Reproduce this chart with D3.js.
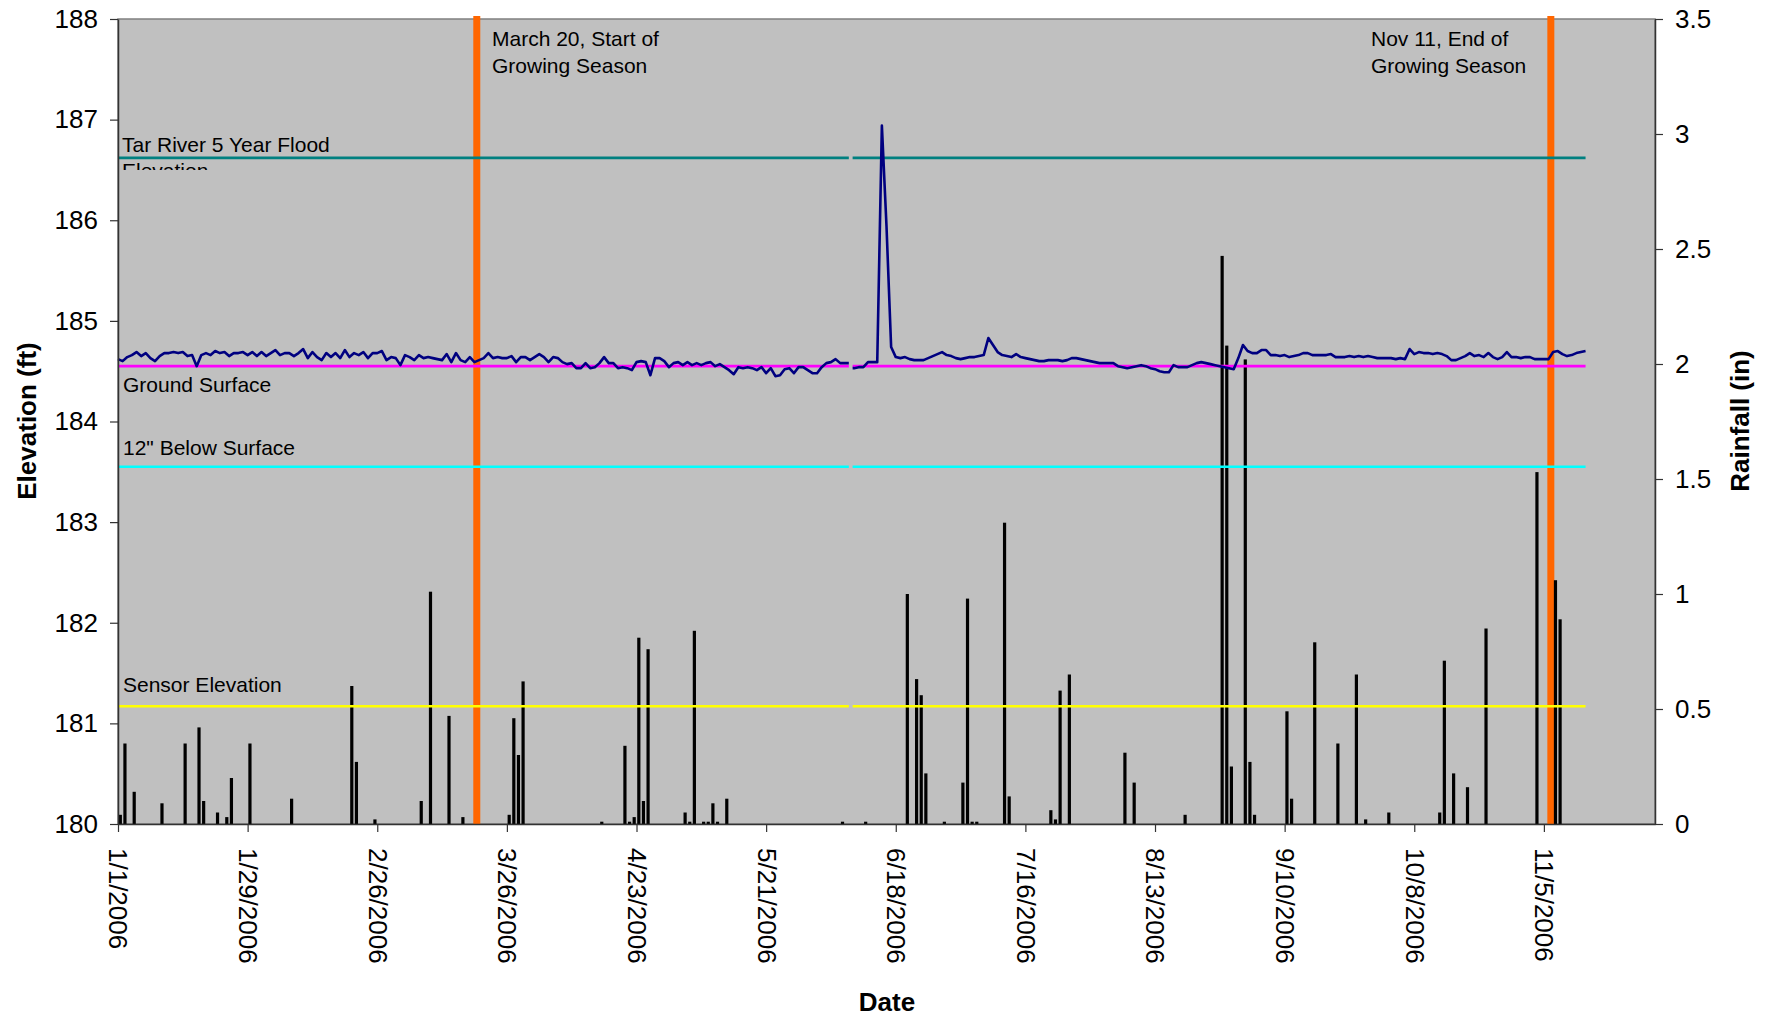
<!DOCTYPE html>
<html><head><meta charset="utf-8">
<script src="https://cdn.jsdelivr.net/npm/d3@7"></script>
<style>
body{margin:0;background:#fff;}
text{font-family:"Liberation Sans", Arial, sans-serif;}
</style></head><body>
<svg id="chart" width="1772" height="1016"></svg>
<script>
// ---------------- DATA ----------------
const levelStart = "2006-01-01"; // daily water level readings start
const levelValues = [
184.62,184.60,184.64,184.66,184.69,184.65,184.68,184.63,184.60,184.65,
184.68,184.68,184.69,184.68,184.69,184.65,184.66,184.55,184.66,184.68,
184.66,184.70,184.68,184.69,184.65,184.68,184.68,184.69,184.66,184.69,
184.65,184.69,184.65,184.68,184.71,184.66,184.68,184.68,184.65,184.68,
184.72,184.63,184.69,184.64,184.61,184.68,184.64,184.68,184.63,184.71,
184.64,184.68,184.66,184.69,184.63,184.68,184.68,184.70,184.61,184.64,
184.63,184.56,184.66,184.64,184.61,184.66,184.63,184.64,184.63,184.62,
184.61,184.67,184.59,184.68,184.61,184.59,184.64,184.59,184.61,184.63,
184.68,184.63,184.64,184.63,184.63,184.65,184.59,184.64,184.64,184.61,
184.64,184.67,184.64,184.59,184.64,184.63,184.59,184.57,184.58,184.53,
184.53,184.58,184.53,184.54,184.58,184.64,184.58,184.58,184.53,184.54,
184.53,184.51,184.59,184.60,184.59,184.46,184.63,184.63,184.60,184.54,
184.58,184.59,184.56,184.59,184.56,184.58,184.56,184.58,184.59,184.55,
184.57,184.54,184.51,184.47,184.54,184.53,184.54,184.53,184.51,184.54,
184.48,184.53,184.45,184.46,184.52,184.53,184.48,184.54,184.54,184.51,
184.48,184.48,184.54,184.58,184.59,184.62,184.58,184.58,null,184.53,
184.54,184.54,184.59,184.59,184.59,186.94,185.94,184.74,184.64,184.63,
184.64,184.62,184.61,184.61,184.61,184.63,184.65,184.67,184.69,184.66,
184.65,184.63,184.62,184.63,184.64,184.64,184.65,184.66,184.83,184.76,
184.69,184.66,184.65,184.64,184.67,184.64,184.63,184.62,184.61,184.60,
184.60,184.61,184.61,184.61,184.60,184.61,184.63,184.63,184.62,184.61,
184.60,184.59,184.58,184.58,184.58,184.58,184.55,184.54,184.53,184.54,
184.55,184.56,184.55,184.53,184.52,184.50,184.49,184.49,184.56,184.54,
184.54,184.54,184.56,184.58,184.59,184.58,184.57,184.56,184.55,184.54,
184.53,184.52,184.63,184.76,184.70,184.68,184.68,184.71,184.71,184.66,
184.66,184.65,184.66,184.64,184.65,184.66,184.68,184.68,184.66,184.66,
184.66,184.66,184.67,184.64,184.64,184.64,184.65,184.64,184.65,184.64,
184.65,184.64,184.63,184.63,184.63,184.63,184.62,184.63,184.62,184.72,
184.67,184.69,184.68,184.68,184.67,184.68,184.67,184.65,184.61,184.61,
184.63,184.65,184.68,184.65,184.66,184.64,184.68,184.64,184.62,184.64,
184.69,184.64,184.64,184.63,184.64,184.64,184.62,184.62,184.62,184.62,
184.69,184.70,184.67,184.65,184.66,184.68,184.69,184.70
];
// logger outage: no readings between these times
const levelGap = ["2006-06-07T20:40","2006-06-08T16:20"];

const rainDates = [
"2006-01-01","2006-01-02","2006-01-04","2006-01-10","2006-01-15","2006-01-18","2006-01-19","2006-01-22","2006-01-24","2006-01-25",
"2006-01-29","2006-02-07","2006-02-20","2006-02-21","2006-02-25","2006-03-07","2006-03-09","2006-03-13","2006-03-16","2006-03-26",
"2006-03-27","2006-03-28","2006-03-29","2006-04-15","2006-04-20","2006-04-21","2006-04-22","2006-04-23","2006-04-24","2006-04-25",
"2006-05-03","2006-05-04","2006-05-05","2006-05-07","2006-05-08","2006-05-09","2006-05-10","2006-05-12","2006-06-06","2006-06-11",
"2006-06-20","2006-06-22","2006-06-23","2006-06-24","2006-06-28","2006-07-02","2006-07-03","2006-07-04","2006-07-05","2006-07-11",
"2006-07-12","2006-07-21","2006-07-22","2006-07-23","2006-07-25","2006-08-06","2006-08-08","2006-08-19","2006-08-27","2006-08-28",
"2006-08-29","2006-09-01","2006-09-02","2006-09-03","2006-09-10","2006-09-11","2006-09-16","2006-09-21","2006-09-25","2006-09-27",
"2006-10-02","2006-10-13","2006-10-14","2006-10-16","2006-10-19","2006-10-23","2006-11-03","2006-11-07","2006-11-08"
];
const rainValues = [
0.04,0.35,0.14,0.09,0.35,0.42,0.10,0.05,0.03,0.20,
0.35,0.11,0.60,0.27,0.02,0.10,1.01,0.47,0.03,0.04,
0.46,0.30,0.62,0.01,0.34,0.01,0.03,0.81,0.10,0.76,
0.05,0.01,0.84,0.01,0.01,0.09,0.01,0.11,0.01,0.01,
1.00,0.63,0.56,0.22,0.01,0.18,0.98,0.01,0.01,1.31,
0.12,0.06,0.02,0.58,0.65,0.31,0.18,0.04,2.47,2.08,
0.25,2.02,0.27,0.04,0.49,0.11,0.79,0.35,0.65,0.02,
0.05,0.05,0.71,0.22,0.16,0.85,1.53,1.06,0.89
];

const refLineNames = ["Tar River 5 Year Flood Elevation","Ground Surface","12\" Below Surface","Sensor Elevation"];
const refLineValues = [186.62, 184.55, 183.55, 181.17];

const seasonMarkDates = ["2006-03-19","2006-11-06"];
const seasonMarkLabels = [["March 20, Start of","Growing Season"],["Nov 11, End of","Growing Season"]];

const xTickDates = ["2006-01-01","2006-01-29","2006-02-26","2006-03-26","2006-04-23","2006-05-21",
                    "2006-06-18","2006-07-16","2006-08-13","2006-09-10","2006-10-08","2006-11-05"];
const xDomain = ["2006-01-01","2006-11-29"];
const elevTicks = [180,181,182,183,184,185,186,187,188];
const rainTicks = [0,0.5,1,1.5,2,2.5,3,3.5];

// ---------------- STYLE / LAYOUT ----------------
const L = 118, R = 1655, T = 19, B = 824;
const refColors = ["#008080","#FF00FF","#00FFFF","#FFFF00"];
const DAY = 864e5;
const parse = d3.utcParse("%Y-%m-%d");
const parseT = d3.utcParse("%Y-%m-%dT%H:%M");

const svg = d3.select("#chart");
const x = d3.scaleUtc().domain(xDomain.map(parse)).range([L, R]);
const yL = d3.scaleLinear().domain([180,188]).range([B, T]);
const yR = d3.scaleLinear().domain([0,3.5]).range([B, T]);

svg.append("rect").attr("x",L).attr("y",T).attr("width",R-L).attr("height",B-T)
  .attr("fill","#C0C0C0").attr("stroke","#808080").attr("stroke-width",1.5);

const defs = svg.append("defs");
defs.append("clipPath").attr("id","plotclip").append("rect")
  .attr("x",L).attr("y",T-4).attr("width",R-L).attr("height",B-T+4);
defs.append("clipPath").attr("id","floodclip").append("rect")
  .attr("x",L).attr("y",T).attr("width",400).attr("height",170-T);

const half = d => new Date(parse(d).getTime() + DAY/2);

// growing season markers
svg.append("g").selectAll("line").data(seasonMarkDates).join("line")
  .attr("x1",d=>x(half(d))).attr("x2",d=>x(half(d)))
  .attr("y1",16).attr("y2",B)
  .attr("stroke","#FF6600").attr("stroke-width",7);

// rainfall bars
const bw = 3.2;
svg.append("g").attr("clip-path","url(#plotclip)").selectAll("rect")
  .data(rainDates.map((d,i)=>({date:half(d), v:rainValues[i]}))).join("rect")
  .attr("x",d=>x(d.date)-bw/2).attr("width",bw)
  .attr("y",d=>yR(d.v)).attr("height",d=>B-yR(d.v))
  .attr("fill","#000");

// water level points (the outage is bounded by the gap times)
const t0 = parse(levelStart).getTime();
const g0 = parseT(levelGap[0]), g1 = parseT(levelGap[1]);
const levelPts = [];
levelValues.forEach((v,i)=>{
  if (v == null) {
    levelPts.push({date:g0, value:levelValues[i-1]});
    levelPts.push({date:null, value:null});
    levelPts.push({date:g1, value:levelValues[i+1]});
  } else levelPts.push({date:new Date(t0+i*DAY), value:v});
});

// reference lines
refLineValues.forEach((rv,k)=>{
  const line = d3.line().defined(d=>d.value!=null).x(d=>x(d.date)).y(()=>yL(rv));
  svg.append("path").attr("d",line(levelPts)).attr("fill","none")
    .attr("stroke",refColors[k]).attr("stroke-width",2.6);
});

// water level line
const lvl = d3.line().defined(d=>d.value!=null).x(d=>x(d.date)).y(d=>yL(d.value));
svg.append("path").attr("d",lvl(levelPts)).attr("fill","none")
  .attr("stroke","#000080").attr("stroke-width",2.6).attr("stroke-linejoin","round");

// reference line labels
const lab = svg.append("g").attr("font-size",21).attr("fill","#000");
lab.append("text").attr("x",122).attr("y",151.5).text("Tar River 5 Year Flood");
lab.append("text").attr("x",122).attr("y",178).attr("clip-path","url(#floodclip)").text("Elevation");
lab.append("text").attr("x",123).attr("y",391.5).text(refLineNames[1]);
lab.append("text").attr("x",123).attr("y",455).text(refLineNames[2]);
lab.append("text").attr("x",123).attr("y",692).text(refLineNames[3]);

// season labels
const labX = [492, 1371];
seasonMarkLabels.forEach((ls,k)=>{
  ls.forEach((s,j)=>{
    lab.append("text").attr("x",labX[k]).attr("y",45.5+27*j).text(s);
  });
});

// axes
const fmt = d3.utcFormat("%-m/%-d/%Y");
const gL = svg.append("g").attr("transform",`translate(${L},0)`)
  .call(d3.axisLeft(yL).tickValues(elevTicks).tickSize(8).tickSizeOuter(0).tickPadding(12).tickFormat(d3.format("d")));
const gR = svg.append("g").attr("transform",`translate(${R},0)`)
  .call(d3.axisRight(yR).tickValues(rainTicks).tickSize(8).tickSizeOuter(0).tickPadding(12).tickFormat(d=>String(d)));
const gB = svg.append("g").attr("transform",`translate(0,${B})`)
  .call(d3.axisBottom(x).tickValues(xTickDates.map(parse)).tickSize(8).tickSizeOuter(0).tickFormat(fmt));
gB.selectAll("text").attr("transform","rotate(90)").attr("x",24).attr("y",0)
  .attr("dy","0.35em").attr("text-anchor","start");
[gL,gR,gB].forEach(g=>{
  g.selectAll("text").attr("font-size",26).attr("fill","#000")
    .attr("font-family","'Liberation Sans', Arial, sans-serif");
  g.select(".domain").attr("stroke","#333").attr("stroke-width",1.5);
  g.selectAll(".tick line").attr("stroke","#333").attr("stroke-width",1.2);
});

// axis titles
svg.append("text").attr("transform",`translate(36,421) rotate(-90)`).attr("text-anchor","middle")
  .attr("font-size",26).attr("font-weight","bold").text("Elevation (ft)");
svg.append("text").attr("transform",`translate(1749,421) rotate(-90)`).attr("text-anchor","middle")
  .attr("font-size",26).attr("font-weight","bold").text("Rainfall (in)");
svg.append("text").attr("x",887).attr("y",1011).attr("text-anchor","middle")
  .attr("font-size",26).attr("font-weight","bold").text("Date");
</script>
</body></html>
